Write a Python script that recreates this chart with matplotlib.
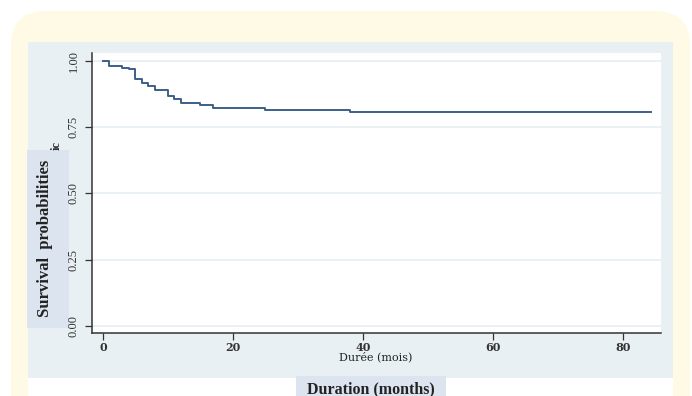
import numpy as np
import matplotlib
matplotlib.use("Agg")
from matplotlib import pyplot as plt
from matplotlib.patches import Rectangle, FancyBboxPatch

# Kaplan-Meier estimate
months = [0, 1, 3, 4, 5, 6, 7, 8, 10, 11, 12, 15, 17, 25, 38, 84.3]
survival = [1.0, 0.982, 0.975, 0.969, 0.931, 0.915, 0.906, 0.890, 0.866, 0.857,
            0.843, 0.833, 0.824, 0.815, 0.806, 0.806]
xticks = [0, 20, 40, 60, 80]
yticks = [0.0, 0.25, 0.5, 0.75, 1.0]

W, H = 692, 396
fig = plt.figure(figsize=(W / 100, H / 100), dpi=100, facecolor="white")


def box(x0, y0, x1, y1):
    # pixel box (top-left origin) -> figure fractions
    return x0 / W, 1 - y1 / H, (x1 - x0) / W, (y1 - y0) / H


def rect(x0, y0, x1, y1, color, z):
    l, b, w, h = box(x0, y0, x1, y1)
    fig.patches.append(Rectangle((l, b), w, h, transform=fig.transFigure,
                                 facecolor=color, edgecolor="none", zorder=z))


# cream rounded frame
fx, fy, fw, fh = box(11, 11, 690, 430)
fig.patches.append(FancyBboxPatch((fx, fy), fw, fh, boxstyle="round,pad=0,rounding_size=0.05",
                                  transform=fig.transFigure, facecolor="#fffae6",
                                  edgecolor="none", zorder=0, mutation_aspect=W / H))
rect(28, 378, 673, 396, "white", 1)      # strip under the panel
rect(28, 42, 673, 378, "#e8f0f3", 1)     # graph panel
rect(27, 150, 69, 328, "#dce4f0", 2)     # y label box
rect(296, 376, 446, 396, "#dce4f0", 2)   # x label box

ax = fig.add_axes(box(92, 53, 661, 333))
ax.set_zorder(5)
ax.set_facecolor("white")
ax.step(months, survival, where="post", color="#3d5f87", lw=1.4)

ax.set_xlim(-1.69, 85.85)
ax.set_ylim(-0.0264, 1.030)
ax.set_xticks(xticks)
ax.set_yticks(yticks)
ax.set_yticklabels([f"{v:.2f}" for v in yticks], rotation=90, va="center",
                   family="Liberation Serif", fontsize=9, color="#333333")
ax.set_xticklabels([str(v) for v in xticks], family="DejaVu Serif", fontsize=8,
                   fontweight="semibold", color="#333333")
ax.tick_params(axis="y", length=5, width=0.9, pad=4, color="#333333")
ax.tick_params(axis="x", length=5, width=0.9, pad=1.5, color="#333333")
ax.grid(axis="y", color="#e3edf2", lw=1.1)
ax.set_axisbelow(True)
for s in ["top", "right"]:
    ax.spines[s].set_visible(False)
for s in ["left", "bottom"]:
    ax.spines[s].set_color("#333333")
    ax.spines[s].set_linewidth(1.1)

fig.text(376 / W, 1 - 357 / H, "Durée (mois)", ha="center", va="center",
         family="DejaVu Serif", fontsize=8, color="#222222", zorder=6)
fig.text(371 / W, 1 - 389 / H, "Duration (months)", ha="center", va="center",
         family="Liberation Serif", fontweight="bold", fontsize=11.5, color="#222222", zorder=6)
fig.text(45 / W, 1 - 238 / H, "Survival  probabilities", ha="center", va="center",
         rotation=90, family="Liberation Serif", fontweight="bold", fontsize=12,
         color="#222222", zorder=6)
fig.text(57 / W, 1 - 145 / H, "ic", ha="center", va="center", rotation=90,
         family="Liberation Serif", fontweight="bold", fontsize=9, color="#333333", zorder=6)

fig.savefig("out.png", dpi=100, facecolor="white")
